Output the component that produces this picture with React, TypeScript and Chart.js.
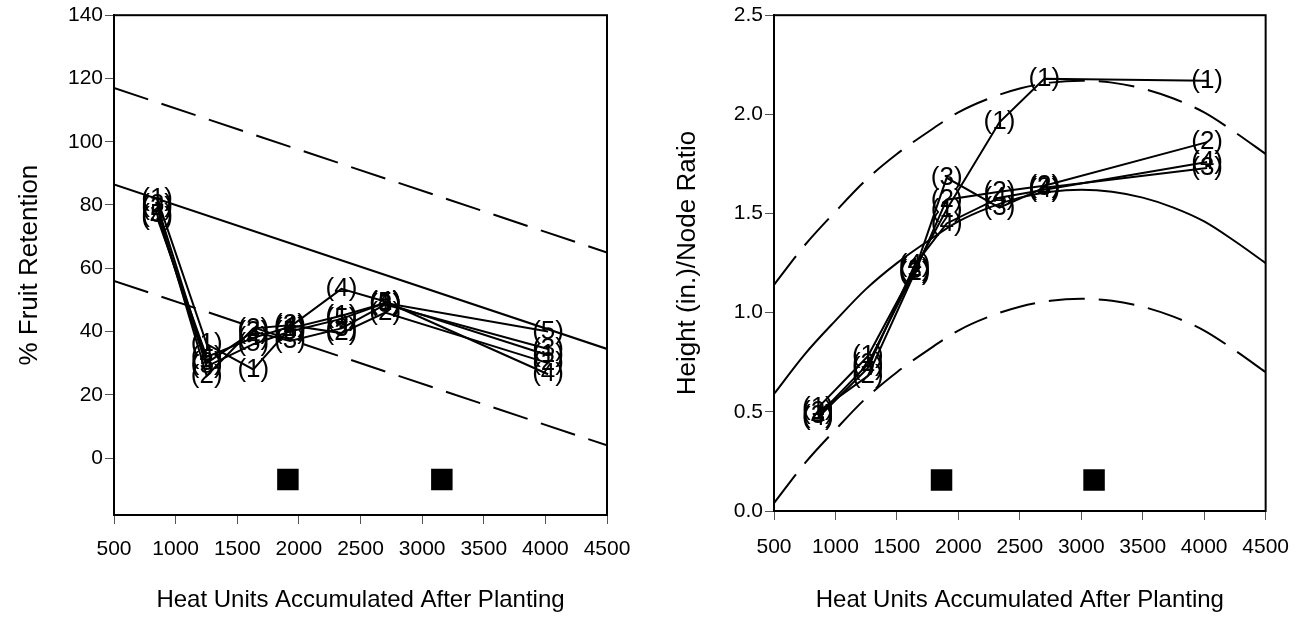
import React, { useEffect, useRef } from "react";
import { Chart, registerables } from "chart.js";

Chart.register(...registerables);

const FONT = '"Liberation Sans", Arial, Helvetica, sans-serif';

// ---------- shared ----------
const xTickValues = [500, 1000, 1500, 2000, 2500, 3000, 3500, 4000, 4500];
const xAxisTitle = "Heat Units Accumulated After Planting";

// ---------- left chart: % fruit retention ----------
const leftX = [850, 1252, 1630, 1928, 2345, 2700, 4022];
const leftS1 = [82, 36, 28, 41, 45, 49, 32.5];
const leftS2 = [79, 26, 41, 42, 39.5, 46, 30];
const leftS3 = [80, 30, 40, 37, 41, 48.5, 34.5];
const leftS4 = [76, 32, 38, 41.5, 53.5, 49.5, 26.5];
const leftS5 = [77, 29, 36, 40, 44, 49, 40];
const leftSeriesLabels = ["(1)", "(2)", "(3)", "(4)", "(5)"];
const leftYTicks = [0, 20, 40, 60, 80, 100, 120, 140];
const leftFitX = [500, 4500];
const leftFitMid = [86.5, 34.5];
const leftFitUpper = [117, 65];
const leftFitLower = [56, 4];
const leftMarkerX = [1911, 3160];
const leftMarkerY = [-6.8, -6.8];

// ---------- right chart: height/node ratio ----------
const rightX = [857, 1263, 1644, 1905, 2334, 2699, 4024];
const rightS1 = [0.52, 0.78, 1.22, 1.52, 1.96, 2.18, 2.17];
const rightS2 = [0.5, 0.68, 1.2, 1.57, 1.61, 1.64, 1.86];
const rightS3 = [0.48, 0.74, 1.21, 1.68, 1.53, 1.63, 1.73];
const rightS4 = [0.47, 0.72, 1.24, 1.45, 1.58, 1.62, 1.76];
const rightSeriesLabels = ["(1)", "(2)", "(3)", "(4)"];
const rightYTicks = [0, 0.5, 1.0, 1.5, 2.0, 2.5];
const rightCurveX = [500, 750, 1000, 1250, 1500, 1750, 2000, 2250, 2500, 2750, 3000, 3250, 3500, 3750, 4000, 4250, 4500];
const rightCurveMid = [0.59, 0.79, 0.96, 1.12, 1.25, 1.36, 1.46, 1.53, 1.58, 1.61, 1.62, 1.61, 1.58, 1.53, 1.46, 1.36, 1.25];
const rightCurveUpper = [1.14, 1.34, 1.51, 1.67, 1.8, 1.91, 2.01, 2.08, 2.13, 2.16, 2.17, 2.16, 2.13, 2.08, 2.01, 1.91, 1.8];
const rightCurveLower = [0.04, 0.24, 0.41, 0.57, 0.7, 0.81, 0.91, 0.98, 1.03, 1.06, 1.07, 1.06, 1.03, 0.98, 0.91, 0.81, 0.7];
const rightMarkerX = [1863, 3104];
const rightMarkerY = [0.156, 0.156];

const zip = (xs: number[], ys: number[]) => xs.map((x, i) => ({ x, y: ys[i] }));

const framePlugin = {
  id: "frameBox",
  afterDraw(chart: any) {
    const { ctx, chartArea: a } = chart;
    ctx.save();
    ctx.strokeStyle = "#000";
    ctx.lineWidth = 2;
    ctx.strokeRect(a.left, a.top, a.right - a.left, a.bottom - a.top);
    ctx.restore();
  },
};

const pointLabelPlugin = {
  id: "pointLabels",
  afterDatasetsDraw(chart: any) {
    const ctx = chart.ctx;
    ctx.save();
    ctx.font = `26px ${FONT}`;
    ctx.fillStyle = "#000";
    ctx.textAlign = "center";
    ctx.textBaseline = "middle";
    chart.data.datasets.forEach((ds: any, i: number) => {
      if (!ds.pointLabel) return;
      chart.getDatasetMeta(i).data.forEach((el: any) => {
        ctx.fillText(ds.pointLabel, el.x, el.y);
      });
    });
    ctx.restore();
  },
};

function seriesDataset(xs: number[], ys: number[], label: string) {
  return {
    label,
    pointLabel: label,
    data: zip(xs, ys),
    showLine: true,
    borderColor: "#000",
    borderWidth: 2,
    pointRadius: 0,
    tension: 0,
  };
}

function fitDataset(xs: number[], ys: number[], dashed: boolean, smooth: boolean) {
  return {
    label: "fit",
    data: zip(xs, ys),
    showLine: true,
    borderColor: "#000",
    borderWidth: 2,
    borderDash: dashed ? [36, 14] : [],
    pointRadius: 0,
    cubicInterpolationMode: smooth ? "monotone" : "default",
  };
}

function markerDataset(xs: number[], ys: number[]) {
  return {
    label: "markers",
    data: zip(xs, ys),
    showLine: false,
    pointStyle: "rect",
    pointRadius: 15.2,
    pointHoverRadius: 15.2,
    backgroundColor: "#000",
    borderColor: "#000",
    borderWidth: 0,
  };
}

type Cfg = {
  datasets: any[];
  yMin: number;
  yMax: number;
  yTicks: number[];
  yFmt: (v: number) => string;
  yTitle: string;
  yWidth: number;
  yTitlePad: number;
  xHeight: number;
  xTickPad: number;
  padRight: number;
};

function buildConfig(c: Cfg): any {
  return {
    type: "scatter",
    data: { datasets: c.datasets },
    options: {
      animation: false,
      responsive: false,
      events: [],
      layout: { padding: { left: 0, right: c.padRight, top: 15, bottom: 0 } },
      plugins: { legend: { display: false }, tooltip: { enabled: false } },
      scales: {
        x: {
          type: "linear",
          min: 500,
          max: 4500,
          afterBuildTicks: (s: any) => {
            s.ticks = xTickValues.map((v) => ({ value: v }));
          },
          afterFit: (s: any) => {
            s.height = c.xHeight;
          },
          ticks: {
            font: { family: FONT, size: 21 },
            color: "#000",
            padding: c.xTickPad,
            maxRotation: 0,
            autoSkip: false,
            callback: (v: number) => String(v),
          },
          grid: { drawOnChartArea: false, drawTicks: true, tickLength: 9, color: "#555", lineWidth: 1 },
          border: { display: true, color: "#000", width: 2 },
          title: {
            display: true,
            text: xAxisTitle,
            font: { family: FONT, size: 24 },
            color: "#000",
            padding: { top: 0, bottom: 4.6 },
          },
        },
        y: {
          type: "linear",
          min: c.yMin,
          max: c.yMax,
          afterBuildTicks: (s: any) => {
            s.ticks = c.yTicks.map((v) => ({ value: v }));
          },
          afterFit: (s: any) => {
            s.width = c.yWidth;
          },
          ticks: {
            font: { family: FONT, size: 21 },
            color: "#000",
            padding: 2,
            autoSkip: false,
            callback: (v: number) => c.yFmt(v),
          },
          grid: { drawOnChartArea: false, drawTicks: true, tickLength: 9, color: "#555", lineWidth: 1 },
          border: { display: true, color: "#000", width: 2 },
          title: {
            display: true,
            text: c.yTitle,
            font: { family: FONT, size: 26 },
            color: "#000",
            padding: { top: c.yTitlePad, bottom: 0 },
          },
        },
      },
    },
    plugins: [framePlugin, pointLabelPlugin],
  };
}

function ChartCanvas({ config, width, height }: { config: () => any; width: number; height: number }) {
  const ref = useRef<HTMLCanvasElement | null>(null);
  useEffect(() => {
    if (!ref.current) return;
    const chart = new Chart(ref.current, config());
    return () => chart.destroy();
  }, []);
  return <canvas ref={ref} width={width} height={height} style={{ width, height, display: "block" }} />;
}

const leftConfig = () => {
  const series = [leftS1, leftS2, leftS3, leftS4, leftS5].map((s, i) => seriesDataset(leftX, s, leftSeriesLabels[i]));
  return buildConfig({
    datasets: [
      fitDataset(leftFitX, leftFitUpper, true, false),
      fitDataset(leftFitX, leftFitMid, false, false),
      fitDataset(leftFitX, leftFitLower, true, false),
      ...series,
      markerDataset(leftMarkerX, leftMarkerY),
    ],
    yMin: -18,
    yMax: 140,
    yTicks: leftYTicks,
    yFmt: (v) => String(v),
    yTitle: "% Fruit Retention",
    yWidth: 114,
    yTitlePad: 14.4,
    xHeight: 104,
    xTickPad: 13,
    padRight: 650 - 607,
  });
};

const rightConfig = () => {
  const series = [rightS1, rightS2, rightS3, rightS4].map((s, i) => seriesDataset(rightX, s, rightSeriesLabels[i]));
  return buildConfig({
    datasets: [
      fitDataset(rightCurveX, rightCurveUpper, true, true),
      fitDataset(rightCurveX, rightCurveMid, false, true),
      fitDataset(rightCurveX, rightCurveLower, true, true),
      ...series,
      markerDataset(rightMarkerX, rightMarkerY),
    ],
    yMin: 0,
    yMax: 2.5,
    yTicks: rightYTicks,
    yFmt: (v) => v.toFixed(1),
    yTitle: "Height (in.)/Node Ratio",
    yWidth: 124,
    yTitlePad: 22.4,
    xHeight: 108,
    xTickPad: 15,
    padRight: 654 - 617,
  });
};

export default function App() {
  return (
    <div style={{ position: "fixed", left: 0, top: 0, width: 1304, height: 619, background: "#fff" }}>
      <div style={{ position: "absolute", left: 0, top: 0 }}>
        <ChartCanvas config={leftConfig} width={650} height={619} />
      </div>
      <div style={{ position: "absolute", left: 650, top: 0 }}>
        <ChartCanvas config={rightConfig} width={654} height={619} />
      </div>
    </div>
  );
}
